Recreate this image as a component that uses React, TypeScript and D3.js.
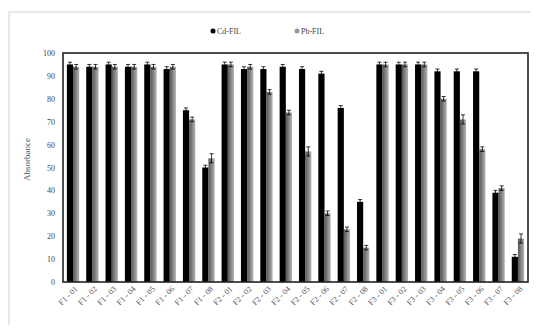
import React, { useRef, useEffect } from 'react';
import * as d3 from 'd3';

const categories = [
  'F1 - 01', 'F1 - 02', 'F1 - 03', 'F1 - 04', 'F1 - 05', 'F1 - 06', 'F1 - 07', 'F1 - 08',
  'F2 - 01', 'F2 - 02', 'F2 - 03', 'F2 - 04', 'F2 - 05', 'F2 - 06', 'F2 - 07', 'F2 - 08',
  'F3 - 01', 'F3 - 02', 'F3 - 03', 'F3 - 04', 'F3 - 05', 'F3 - 06', 'F3 - 07', 'F3 - 08'
];
const cdValues = [95, 94, 95, 94, 95, 93, 75, 50, 95, 93, 93, 94, 93, 91, 76, 35, 95, 95, 95, 92, 92, 92, 39, 11];
const pbValues = [94, 94, 94, 94, 94, 94, 71, 54, 95, 94, 83, 74, 57, 30, 23, 15, 95, 95, 95, 80, 71, 58, 41, 19];
const cdErrors = [1, 1, 1, 1, 1, 1, 1, 1, 1, 1, 1, 1, 1, 1, 1, 1, 1, 1, 1, 1, 1, 1, 1, 1];
const pbErrors = [1, 1, 1, 1, 1, 1, 1, 2, 1, 1, 1, 1, 2, 1, 1, 1, 1, 1, 1, 1, 2, 1, 1, 2];
const seriesNames = ['Cd-FIL', 'Pb-FIL'];
const yTicks = [0, 10, 20, 30, 40, 50, 60, 70, 80, 90, 100];

const W = 539;
const H = 333;

const App: React.FC = () => {
  const ref = useRef<SVGSVGElement | null>(null);

  useEffect(() => {
    if (!ref.current) return;
    const svg = d3.select(ref.current);
    svg.selectAll('*').remove();

    const margin = { top: 53, right: 11, bottom: 51, left: 63 };
    const innerWidth = W - margin.left - margin.right;
    const innerHeight = H - margin.top - margin.bottom;
    const font = 'Liberation Serif, serif';

    const defs = svg.append('defs');
    const grad = defs.append('linearGradient').attr('id', 'pbGrad').attr('x1', '0%').attr('x2', '100%');
    grad.append('stop').attr('offset', '0%').attr('stop-color', '#555');
    grad.append('stop').attr('offset', '100%').attr('stop-color', '#b5b5b5');

    // outer chart frame
    svg.append('rect')
      .attr('x', 9).attr('y', 12)
      .attr('width', 524).attr('height', 318)
      .attr('fill', '#fff')
      .attr('stroke', '#d0d0d0');

    const x0 = d3.scaleBand<string>().domain(categories).range([0, innerWidth]).paddingInner(0.36).paddingOuter(0.2);
    const x1 = d3.scaleBand<string>().domain(seriesNames).range([0, x0.bandwidth()]);
    const y = d3.scaleLinear().domain([0, 100]).range([innerHeight, 0]);

    const g = svg.append('g').attr('transform', `translate(${margin.left},${margin.top})`);

    const data = categories.map((c, i) => ({
      cat: c,
      vals: [
        { s: seriesNames[0], v: cdValues[i], e: cdErrors[i] },
        { s: seriesNames[1], v: pbValues[i], e: pbErrors[i] }
      ]
    }));

    const groups = g.selectAll('g.grp').data(data).enter().append('g')
      .attr('class', 'grp')
      .attr('transform', d => `translate(${x0(d.cat)},0)`);

    groups.selectAll('rect').data(d => d.vals).enter().append('rect')
      .attr('x', d => x1(d.s) as number)
      .attr('y', d => y(d.v))
      .attr('width', x1.bandwidth())
      .attr('height', d => innerHeight - y(d.v))
      .attr('fill', d => (d.s === seriesNames[0] ? '#000' : 'url(#pbGrad)'));

    // error bars
    const eb = groups.selectAll('g.err').data(d => d.vals).enter().append('g').attr('class', 'err');
    const cx = (d: { s: string }) => (x1(d.s) as number) + x1.bandwidth() / 2;
    eb.append('line')
      .attr('x1', cx).attr('x2', cx)
      .attr('y1', d => y(d.v + d.e)).attr('y2', d => y(d.v - d.e))
      .attr('stroke', '#000').attr('stroke-width', 0.8);
    eb.append('line')
      .attr('x1', d => cx(d) - 2).attr('x2', d => cx(d) + 2)
      .attr('y1', d => y(d.v + d.e)).attr('y2', d => y(d.v + d.e))
      .attr('stroke', '#000').attr('stroke-width', 0.8);
    eb.append('line')
      .attr('x1', d => cx(d) - 2).attr('x2', d => cx(d) + 2)
      .attr('y1', d => y(d.v - d.e)).attr('y2', d => y(d.v - d.e))
      .attr('stroke', '#000').attr('stroke-width', 0.8);

    // plot border
    g.append('rect')
      .attr('width', innerWidth).attr('height', innerHeight)
      .attr('fill', 'none').attr('stroke', '#222').attr('stroke-width', 1.6);

    // y axis
    const yAxis = g.append('g')
      .call(d3.axisLeft(y).tickValues(yTicks).tickSize(0).tickPadding(8));
    yAxis.select('.domain').remove();
    yAxis.selectAll('text').attr('font-family', font).attr('font-size', 8).attr('fill', '#444');

    // x axis
    const xAxis = g.append('g')
      .attr('transform', `translate(0,${innerHeight})`)
      .call(d3.axisBottom(x0).tickSize(0).tickPadding(4));
    xAxis.select('.domain').remove();
    xAxis.selectAll('text')
      .attr('font-family', font).attr('font-size', 8).attr('fill', '#555')
      .attr('text-anchor', 'end')
      .attr('dx', '-0.2em').attr('dy', '0.6em')
      .attr('transform', 'rotate(-45)');

    // y label
    g.append('text')
      .attr('transform', 'rotate(-90)')
      .attr('x', -innerHeight / 2 + 8)
      .attr('y', -33)
      .attr('text-anchor', 'middle')
      .attr('font-family', font).attr('font-size', 9).attr('fill', '#555')
      .text('Absorbance');

    // legend
    const legend = svg.append('g').attr('transform', 'translate(213,31)');
    const lItems = [
      { name: seriesNames[0], color: '#000', dx: 0 },
      { name: seriesNames[1], color: '#999', dx: 84 }
    ];
    lItems.forEach(it => {
      const lg = legend.append('g').attr('transform', `translate(${it.dx},0)`);
      lg.append('circle').attr('r', 2.5).attr('fill', it.color);
      lg.append('text').attr('x', 4).attr('dy', '0.35em')
        .attr('font-family', font).attr('font-size', 8).attr('fill', '#444')
        .text(it.name);
    });
  }, []);

  return <svg ref={ref} width={W} height={H} viewBox={`0 0 ${W} ${H}`} style={{ display: 'block', margin: '-8px' }} />;
};

export default App;
